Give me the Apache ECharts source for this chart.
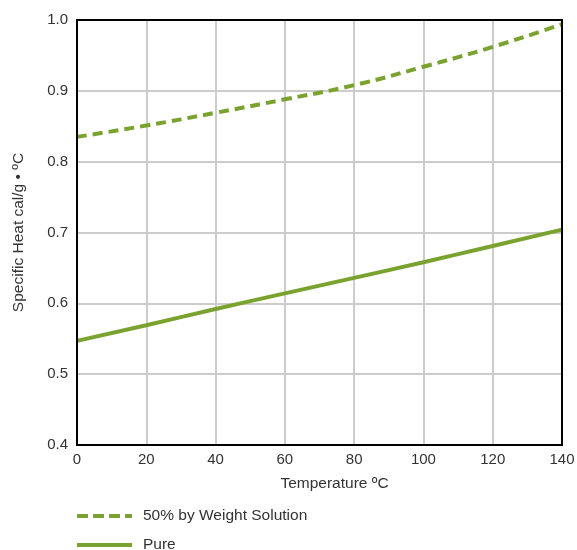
<!DOCTYPE html>
<html><head><meta charset="utf-8">
<script src="https://cdn.jsdelivr.net/npm/echarts@6/dist/echarts.min.js"></script>
<style>html,body{margin:0;padding:0;background:#fff}#c{width:577px;height:550px}</style>
</head><body><div id="c"></div>
<script>
const temps = [0, 20, 40, 60, 80, 100, 120, 140];
const solution50 = [0.835, 0.851, 0.869, 0.888, 0.908, 0.934, 0.962, 0.994];
const pure = [0.547, 0.569, 0.592, 0.614, 0.636, 0.658, 0.681, 0.704];
const seriesNames = ['50% by Weight Solution', 'Pure'];
const green = '#79a22f';
const font = 'Liberation Sans, Arial, sans-serif';
const chart = echarts.init(document.getElementById('c'));
chart.setOption({
  animation: false,
  grid: { left: 77, right: 15, top: 20, bottom: 105, containLabel: false, outerBoundsMode: 'none' },
  xAxis: {
    type: 'value', min: 0, max: 140, interval: 20,
    name: 'Temperature ºC', nameLocation: 'middle', nameGap: 31,
    nameTextStyle: { color: '#333', fontSize: 15.5, fontFamily: font, padding: [0, 0, 0, 30] },
    axisLine: { show: true, lineStyle: { color: '#000', width: 2 } },
    axisTick: { show: false },
    axisLabel: { color: '#333', fontSize: 15, fontFamily: font, margin: 7 },
    splitLine: { show: true, lineStyle: { color: '#cccccc', width: 2 } }
  },
  yAxis: {
    type: 'value', min: 0.4, max: 1.0, interval: 0.1,
    name: 'Specific Heat cal/g • ºC', nameLocation: 'middle', nameGap: 50,
    nameTextStyle: { color: '#333', fontSize: 15.5, fontFamily: font },
    axisLine: { show: true, lineStyle: { color: '#000', width: 2 } },
    axisTick: { show: false },
    axisLabel: { color: '#333', fontSize: 15, fontFamily: font, margin: 9, formatter: v => v.toFixed(1) },
    splitLine: { show: true, lineStyle: { color: '#cccccc', width: 2 } }
  },
  legend: { show: false },
  graphic: [
    { type: 'rect', shape: { x: 77, y: 20, width: 485, height: 425 }, style: { fill: 'none', stroke: '#000', lineWidth: 2 }, silent: true, z: 5 },
    { type: 'line', shape: { x1: 77, y1: 516, x2: 132, y2: 516 }, style: { stroke: green, lineWidth: 4, lineDash: [11, 5] } },
    { type: 'text', left: 143, top: 508, style: { text: seriesNames[0], fill: '#333', fontSize: 15.5, fontFamily: font } },
    { type: 'line', shape: { x1: 77, y1: 545, x2: 132, y2: 545 }, style: { stroke: green, lineWidth: 4 } },
    { type: 'text', left: 143, top: 537, style: { text: seriesNames[1], fill: '#333', fontSize: 15.5, fontFamily: font } }
  ],
  series: [
    { name: seriesNames[0], type: 'line', smooth: true, showSymbol: false, symbol: 'none',
      data: temps.map((t, i) => [t, solution50[i]]),
      lineStyle: { color: green, width: 4, type: [10, 6] }, itemStyle: { color: green } },
    { name: seriesNames[1], type: 'line', smooth: true, showSymbol: false, symbol: 'none',
      data: temps.map((t, i) => [t, pure[i]]),
      lineStyle: { color: green, width: 4 }, itemStyle: { color: green } }
  ]
});
</script></body></html>
